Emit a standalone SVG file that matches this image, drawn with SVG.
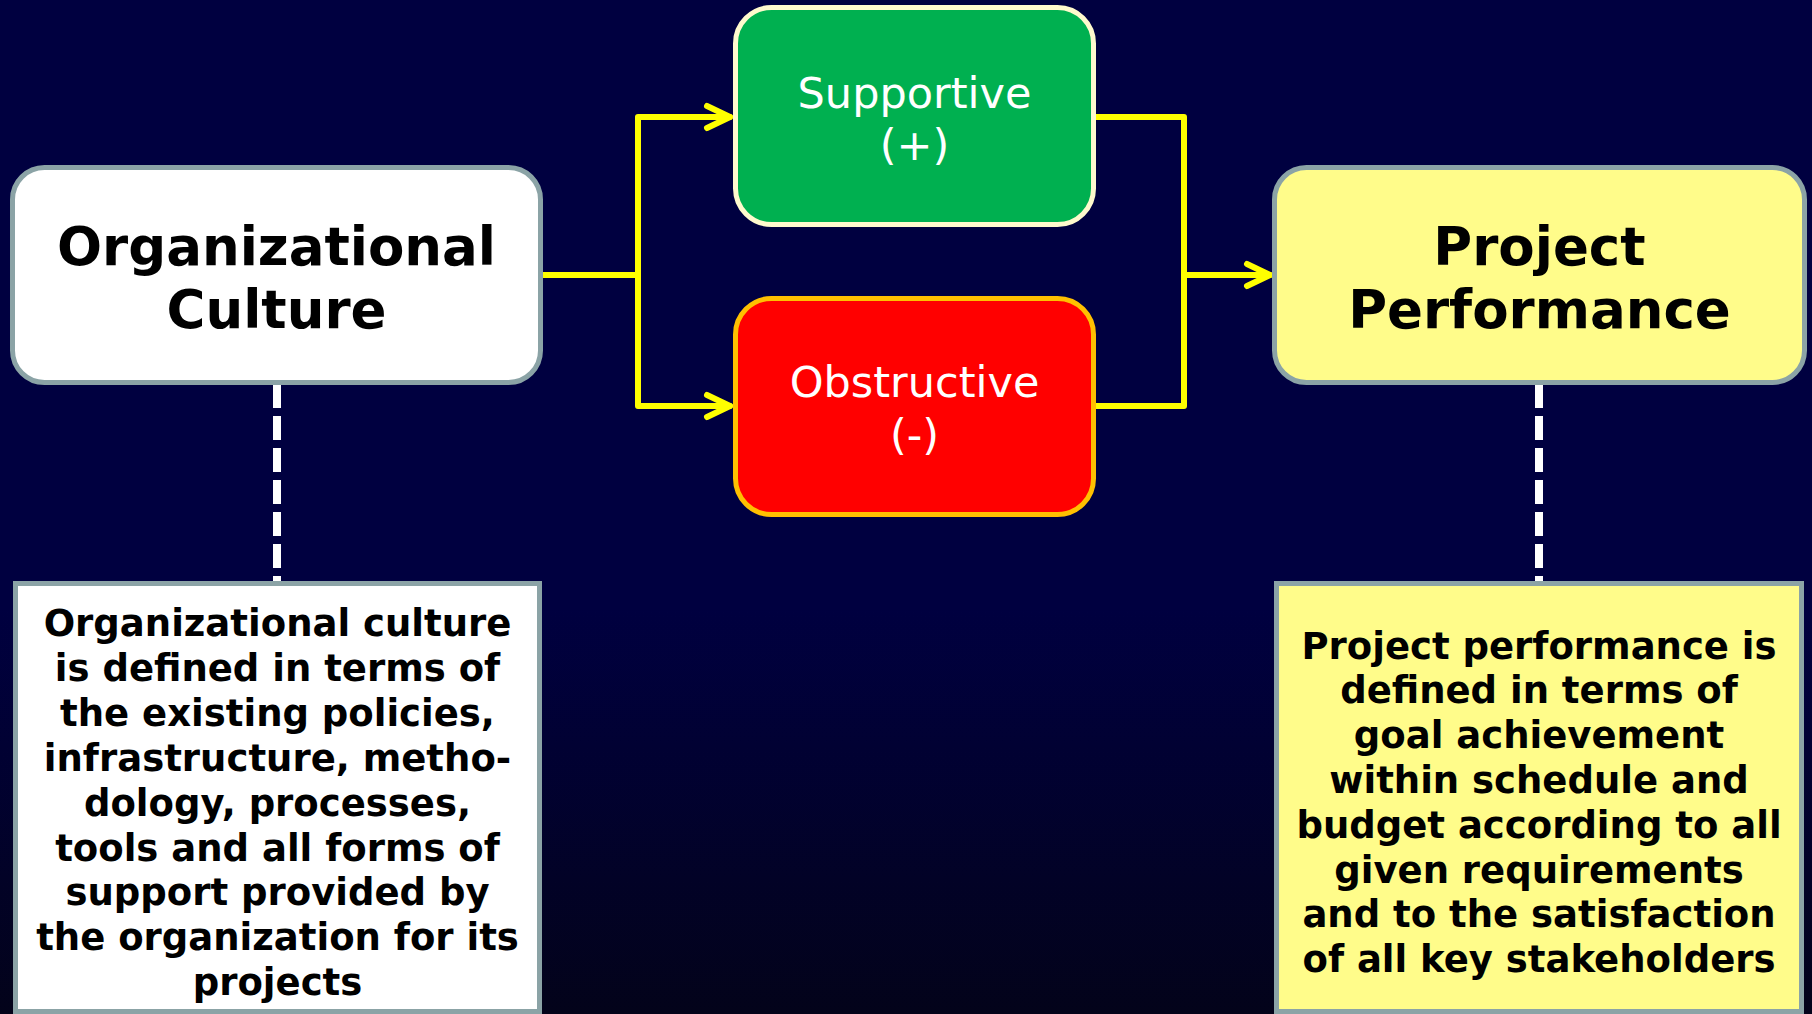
<svg xmlns="http://www.w3.org/2000/svg" width="1812" height="1014" viewBox="0 0 1812 1014">
<defs>
<linearGradient id="bg" x1="0" y1="0" x2="0" y2="1">
<stop offset="0" stop-color="#000040"/>
<stop offset="0.6" stop-color="#000040"/>
<stop offset="1" stop-color="#03031a"/>
</linearGradient>
<marker id="arr" markerUnits="userSpaceOnUse" markerWidth="40" markerHeight="40" viewBox="-30 -20 40 40" refX="0" refY="0" orient="auto">
<path d="M-23,-11 L0,0 L-23,11" fill="none" stroke="#FFFF00" stroke-width="6" stroke-linecap="round" stroke-linejoin="round"/>
</marker>
<style>
.title{font-family:"DejaVu Sans",Verdana,sans-serif;font-weight:bold;font-size:53px;fill:#000;text-anchor:middle}
.mid{font-family:"DejaVu Sans",Verdana,sans-serif;font-size:43px;fill:#fff;text-anchor:middle}
.desc{font-family:"DejaVu Sans",Verdana,sans-serif;font-weight:bold;font-size:37px;fill:#000;text-anchor:middle}
.grey{stroke:#8BA3A6;stroke-width:5}
.conn{fill:none;stroke:#FFFF00;stroke-width:6;stroke-linecap:round;stroke-linejoin:round}
.dash{fill:none;stroke:#FFFFFF;stroke-width:8;stroke-dasharray:24 8}
</style>
</defs>
<rect x="0" y="0" width="1812" height="1014" fill="url(#bg)"/>

<g id="connectors">
<path class="conn" d="M543,275 H638"/>
<path class="conn" d="M638,275 V117 H730" marker-end="url(#arr)"/>
<path class="conn" d="M638,275 V406 H730" marker-end="url(#arr)"/>
<path class="conn" d="M1095,117 H1184 V406 H1095"/>
<path class="conn" d="M1184,275 H1270" marker-end="url(#arr)"/>
<path class="dash" d="M277,384 V581"/>
<path class="dash" d="M1539,384 V581"/>
</g>

<g id="org-culture">
<rect class="grey" x="12.5" y="167.5" width="528" height="215" rx="32" fill="#FFFFFF"/>
<text class="title" x="276.5" y="265">Organizational</text>
<text class="title" x="276.5" y="328">Culture</text>
</g>

<g id="supportive">
<rect x="735.5" y="7.5" width="358" height="217" rx="36" fill="#00B050" stroke="#FFFACD" stroke-width="5"/>
<text class="mid" x="914.5" y="108">Supportive</text>
<text class="mid" x="914.5" y="160">(+)</text>
</g>

<g id="obstructive">
<rect x="735.5" y="298.5" width="358" height="216" rx="36" fill="#FF0000" stroke="#FFC000" stroke-width="5"/>
<text class="mid" x="914.5" y="397">Obstructive</text>
<text class="mid" x="914.5" y="450">(-)</text>
</g>

<g id="project-performance">
<rect class="grey" x="1274.5" y="167.5" width="530" height="215" rx="32" fill="#FFFC8A"/>
<text class="title" x="1539.5" y="265">Project</text>
<text class="title" x="1539.5" y="328">Performance</text>
</g>

<g id="org-culture-def">
<rect class="grey" x="15.5" y="583.5" width="524" height="428" fill="#FFFFFF"/>
<text class="desc" x="277.5" y="636">Organizational culture</text>
<text class="desc" x="277.5" y="680.9">is defined in terms of</text>
<text class="desc" x="277.5" y="725.8">the existing policies,</text>
<text class="desc" x="277.5" y="770.7">infrastructure, metho-</text>
<text class="desc" x="277.5" y="815.6">dology, processes,</text>
<text class="desc" x="277.5" y="860.5">tools and all forms of</text>
<text class="desc" x="277.5" y="905.4">support provided by</text>
<text class="desc" x="277.5" y="950.3">the organization for its</text>
<text class="desc" x="277.5" y="995.2">projects</text>
</g>

<g id="project-performance-def">
<rect class="grey" x="1276.5" y="583.5" width="525" height="428" fill="#FFFC8A"/>
<text class="desc" x="1539" y="658.5">Project performance is</text>
<text class="desc" x="1539" y="703.3">defined in terms of</text>
<text class="desc" x="1539" y="748.1">goal achievement</text>
<text class="desc" x="1539" y="792.9">within schedule and</text>
<text class="desc" x="1539" y="837.7">budget according to all</text>
<text class="desc" x="1539" y="882.5">given requirements</text>
<text class="desc" x="1539" y="927.3">and to the satisfaction</text>
<text class="desc" x="1539" y="972.1">of all key stakeholders</text>
</g>
</svg>
